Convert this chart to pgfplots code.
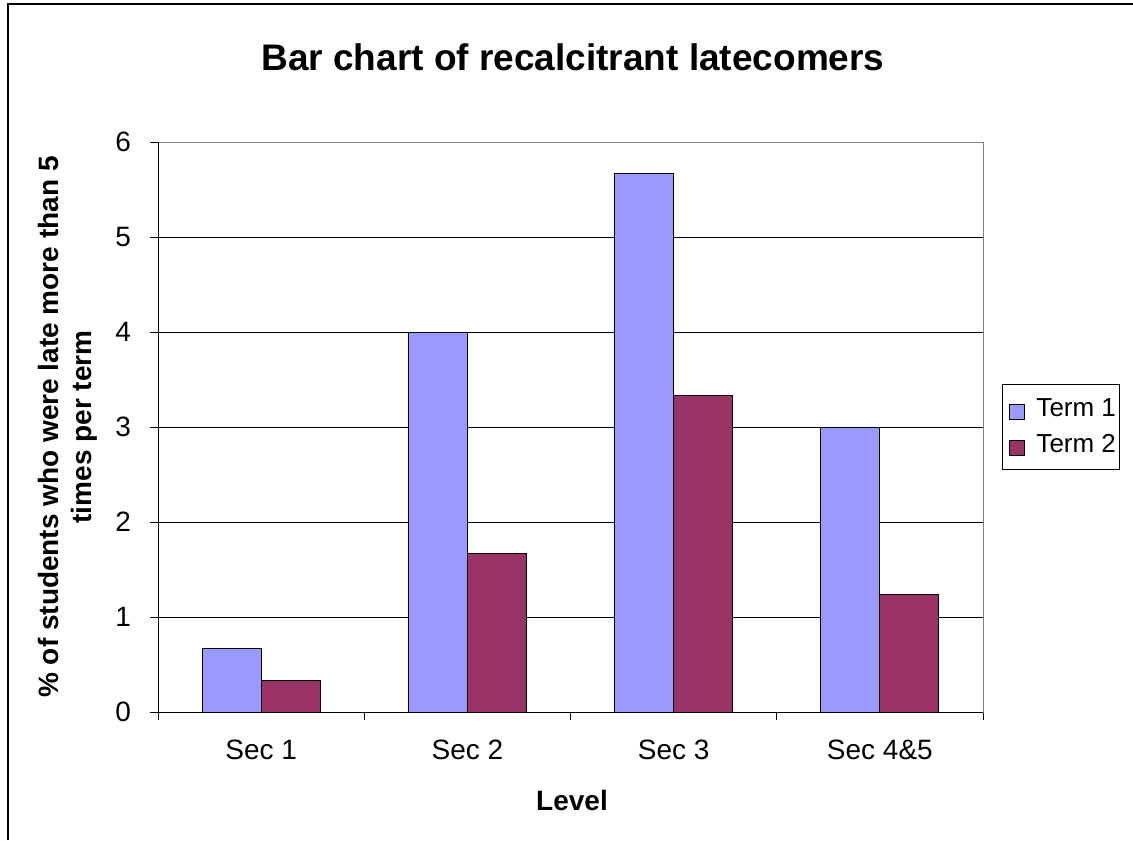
\documentclass[border=0pt]{standalone}
\usepackage{pgfplots}
\pgfplotsset{compat=1.18}
\usepackage{fontspec}
\setmainfont{Liberation Sans}
\definecolor{termone}{HTML}{9999FF}
\definecolor{termtwo}{HTML}{993366}
\begin{document}
\begin{tikzpicture}
\path[use as bounding box] (0,0) rectangle (566.5pt,420pt);
\draw[line width=0.8pt] (4pt,0) -- (4pt,418pt) -- (566.5pt,418pt);
\begin{axis}[
  at={(79pt,64pt)}, anchor=south west,
  scale only axis, width=412.5pt, height=285pt,
  ybar=0pt, bar width=0.2857,
  xmin=-0.5, xmax=3.5, ymin=0, ymax=6,
  ytick={0,1,2,3,4,5,6},
  xtick={0,1,2,3},
  xticklabels={Sec 1,Sec 2,Sec 3,Sec 4\&5},
  minor xtick={-0.5,0.5,1.5,2.5,3.5},
  major x tick style={draw=none},
  tick align=outside, tickpos=left,
  major tick length=4pt, minor tick length=4pt,
  tick style={black, line width=0.5pt},
  axis line style={gray, line width=0.5pt},
  ymajorgrids, major grid style={black, line width=0.5pt},
  /pgf/number format/assume math mode=true,
  tick label style={font=\fontsize{14}{16}\selectfont},
  xticklabel style={yshift=-6.5pt},
  yticklabel style={xshift=-6pt},
  legend style={at={(1.023,0.5754)}, anchor=north west, draw=black, line width=0.5pt,
    font=\fontsize{13}{15}\selectfont, cells={anchor=west},
    inner xsep=0pt, inner ysep=5pt, row sep=3.5pt,
    nodes={inner xsep=2pt}},
  legend image code/.code={\path[draw=none, fill=none] (0pt,0pt) -- (15pt,0pt);
    \draw[#1, line width=0.5pt] (3.5pt,-5.25pt) rectangle (11pt,2.25pt);},
]
\addplot[fill=termone, draw=black, line width=0.5pt] coordinates {(0,0.67) (1,4.0) (2,5.67) (3,3.0)};
\addlegendentry{Term 1}
\addplot[fill=termtwo, draw=black, line width=0.5pt] coordinates {(0,0.33) (1,1.67) (2,3.33) (3,1.24)};
\addlegendentry{Term 2}
\draw[black, line width=0.5pt] (rel axis cs:0,0) -- (rel axis cs:0,1);
\draw[black, line width=0.5pt] (rel axis cs:0,0) -- (rel axis cs:1,0);
\end{axis}
\node[font=\bfseries\fontsize{18.5}{22}\selectfont] at (286.5pt,391.5pt) {Bar chart of recalcitrant latecomers};
\node[font=\bfseries\fontsize{14}{16}\selectfont] at (286pt,20pt) {Level};
\node[font=\bfseries\fontsize{14}{16.5}\selectfont, rotate=90, align=center] at (34pt,206.5pt) {\% of students who were late more than 5\\times per term};
\end{tikzpicture}
\end{document}
